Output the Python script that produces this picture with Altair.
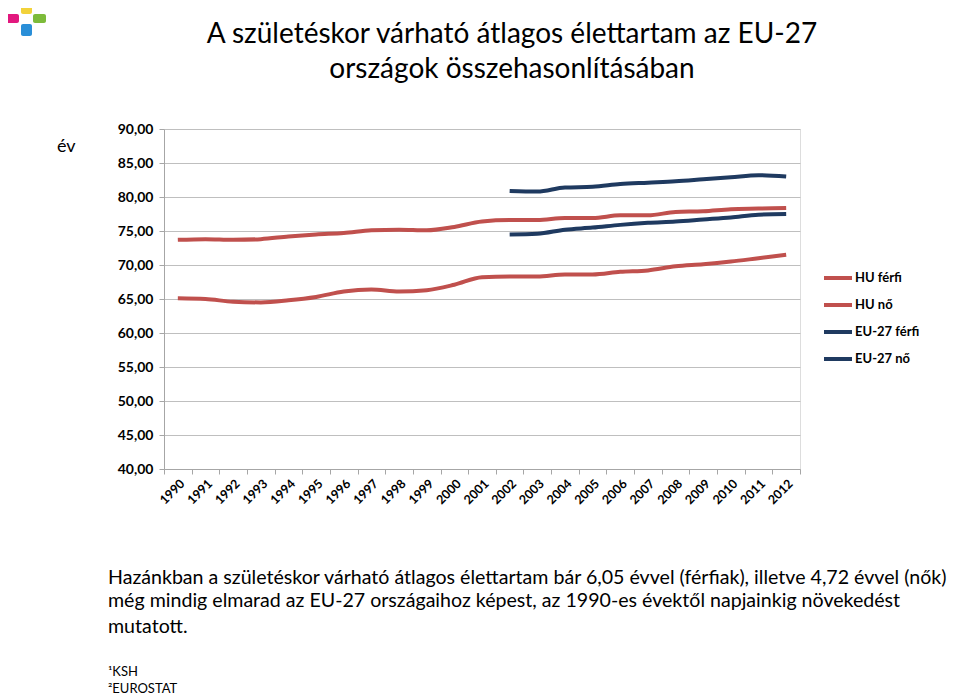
import altair as alt
import pandas as pd

years = list(range(1990, 2013))
hu_ferfi = [65.1, 65.0, 64.6, 64.5, 64.8, 65.3, 66.1, 66.4, 66.1, 66.3, 67.1, 68.2,
            68.3, 68.3, 68.6, 68.6, 69.0, 69.2, 69.8, 70.1, 70.5, 71.0, 71.5]
hu_no = [73.7, 73.8, 73.7, 73.8, 74.2, 74.5, 74.7, 75.1, 75.2, 75.1, 75.6, 76.4,
         76.6, 76.6, 76.9, 76.9, 77.3, 77.3, 77.8, 77.9, 78.2, 78.3, 78.4]
eu_years = list(range(2002, 2013))
eu_ferfi = [74.5, 74.6, 75.2, 75.5, 75.9, 76.2, 76.4, 76.7, 77.0, 77.4, 77.5]
eu_no = [80.9, 80.8, 81.4, 81.5, 81.9, 82.1, 82.3, 82.6, 82.9, 83.2, 83.0]

series_names = ["HU férfi", "HU nő", "EU-27 férfi", "EU-27 nő"]
series_colors = ["#C0504D", "#C0504D", "#1F3A60", "#1F3A60"]
y_ticks = [40, 45, 50, 55, 60, 65, 70, 75, 80, 85, 90]

title_lines = ["A születéskor várható átlagos élettartam az EU-27",
               "országok összehasonlításában"]
body_lines = [
    "Hazánkban a születéskor várható átlagos élettartam bár 6,05 évvel (férfiak), illetve 4,72 évvel (nők)",
    "még mindig elmarad az EU-27 országaihoz képest, az 1990-es évektől napjainkig növekedést",
    "mutatott.",
]
footnotes = ["¹KSH", "²EUROSTAT"]

rows = []
for name, ys, vals in [
    ("HU férfi", years, hu_ferfi),
    ("HU nő", years, hu_no),
    ("EU-27 férfi", eu_years, eu_ferfi),
    ("EU-27 nő", eu_years, eu_no),
]:
    for yr, v in zip(ys, vals):
        rows.append({"év": str(yr), "sor": name, "érték": v})
df = pd.DataFrame(rows)

W, H = 636, 340
FONT = "Lato"

lines = alt.Chart(df).mark_line(strokeWidth=4, interpolate="monotone").encode(
    x=alt.X("év:O", scale=alt.Scale(type="band", domain=[str(y) for y in years],
                                     paddingInner=0, paddingOuter=0),
            bandPosition=0.5,
            axis=alt.Axis(title=None, labelAngle=-45, labelFontWeight="bold",
                          labelFontSize=12.5, labelColor="#000000", labelFont=FONT,
                          tickBand="extent", tickSize=5, tickColor="#A6A6A6",
                          domainColor="#A6A6A6", grid=False, labelPadding=3)),
    y=alt.Y("érték:Q", scale=alt.Scale(domain=[40, 90], nice=False, zero=False),
            axis=alt.Axis(title=None, values=y_ticks, labelFontWeight="bold",
                          labelFontSize=14, labelColor="#000000", labelFont=FONT,
                          labelExpr="replace(format(datum.value, '.2f'), '.', ',')",
                          tickSize=5, tickColor="#A6A6A6", domainColor="#A6A6A6",
                          gridColor="#BFBFBF", labelPadding=6)),
    color=alt.Color("sor:N", scale=alt.Scale(domain=series_names, range=series_colors),
                    legend=alt.Legend(title=None, orient="none", legendX=658, legendY=133,
                                      symbolType="stroke", symbolStrokeWidth=4,
                                      symbolSize=784, rowPadding=3,
                                      labelFontSize=13, labelFontWeight="bold",
                                      labelFont=FONT, labelColor="#000000",
                                      labelOffset=1)),
    order=alt.Order("év:O"),
)


def txt(s, x, y, size, align="left", weight="normal", font=FONT, color="#000000"):
    return alt.Chart(alt.Data(values=[{"t": s}])).mark_text(
        align=align, baseline="middle", fontSize=size, font=font,
        fontWeight=weight, color=color,
    ).encode(x=alt.value(x), y=alt.value(y), text="t:N")


def box(x, y, w, h, color):
    return alt.Chart(alt.Data(values=[{}])).mark_rect(color=color, cornerRadius=2).encode(
        x=alt.value(x), x2=alt.value(x + w), y=alt.value(y), y2=alt.value(y + h))


layers = [lines]
# small four-colour logo, top left
layers.append(box(-143, -126, 11, 11, "#F2D23A"))
layers.append(box(-158, -115, 13, 9, "#E2187E"))
layers.append(box(-131, -115, 13, 9, "#7DBB3A"))
layers.append(box(-143, -105, 11, 12, "#2A8FD8"))
layers.append(txt(title_lines[0], 348, -94, 28, align="center"))
layers.append(txt(title_lines[1], 348, -59, 28, align="center"))
layers.append(txt("év", -107, 18, 18))
for s, yy in zip(body_lines, [449, 472, 498]):
    layers.append(txt(s, -56, yy, 19.6))
for s, yy in zip(footnotes, [543, 560]):
    layers.append(txt(s, -56, yy, 13))

chart = alt.layer(*layers).properties(
    width=W, height=H,
    autosize=alt.AutoSizeParams(type="none"),
    padding={"left": 156, "top": 121, "right": 151, "bottom": 235},
).configure_view(stroke=None).configure(background="#FFFFFF")

chart.save("out.html", embed_options={"renderer": "svg", "actions": False})
